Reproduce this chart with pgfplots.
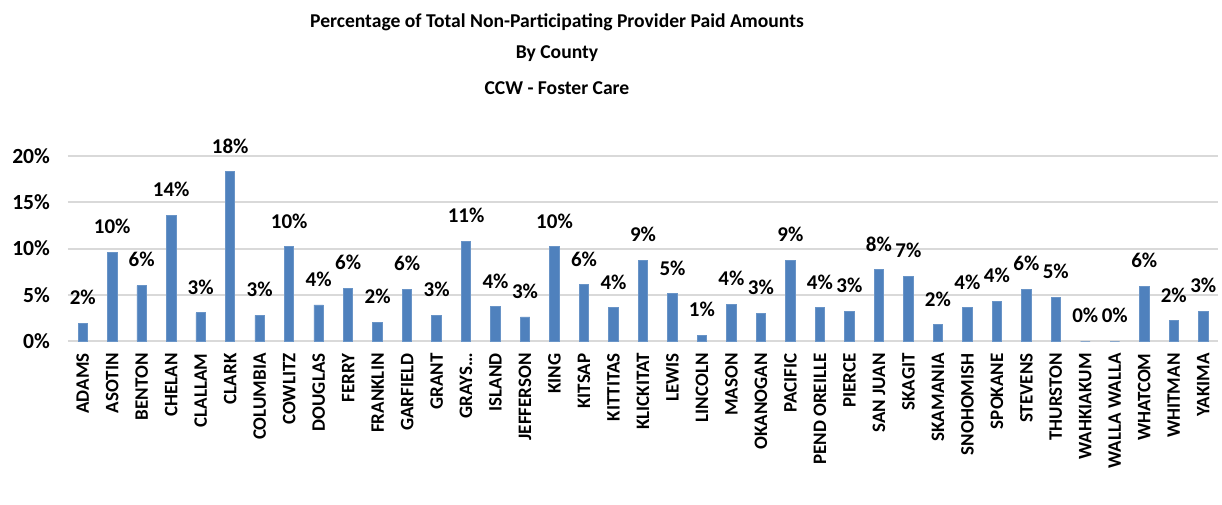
\documentclass[border=0pt]{standalone}
\usepackage{pgfplots}
\pgfplotsset{compat=1.18}
\usepackage{fontspec}
\setmainfont{Carlito}
\definecolor{barblue}{HTML}{4F81BD}
\begin{document}
\begin{tikzpicture}[x=1pt,y=1pt]
\begin{axis}[
    at={(34pt,81.5pt)}, anchor=south west,
    scale only axis,
    width=575pt, height=92.5pt,
    ybar, bar width=0.32,
    xmin=-0.5, xmax=38.5,
    ymin=0, ymax=20,
    ytick={0,5,10,15,20},
    yticklabel={\pgfmathprintnumber{\tick}\%},
    xtick=data,
    xticklabels={ADAMS,ASOTIN,BENTON,CHELAN,CLALLAM,CLARK,COLUMBIA,COWLITZ,DOUGLAS,FERRY,FRANKLIN,GARFIELD,GRANT,GRAYS…,ISLAND,JEFFERSON,KING,KITSAP,KITTITAS,KLICKITAT,LEWIS,LINCOLN,MASON,OKANOGAN,PACIFIC,PEND OREILLE,PIERCE,SAN JUAN,SKAGIT,SKAMANIA,SNOHOMISH,SPOKANE,STEVENS,THURSTON,WAHKIAKUM,WALLA WALLA,WHATCOM,WHITMAN,YAKIMA},
    xticklabel style={rotate=90, anchor=east, font=\fontsize{9.5}{10}\selectfont\bfseries, inner sep=1pt, xshift=-5pt},
    yticklabel style={font=\fontsize{10.8}{12}\selectfont\bfseries, xshift=-5.5pt},
    /pgf/number format/assume math mode=true,
    major tick length=0pt,
    axis line style={draw=none},
    ymajorgrids,
    grid style={draw=gray!30, line width=1pt},
    nodes near coords={\pgfmathprintnumber[fixed,precision=0]{\pgfplotspointmeta}\%},
    point meta=y,
    every node near coord/.append style={font=\fontsize{10.5}{12}\selectfont\bfseries, inner sep=2pt, yshift=7pt},
    clip=false,
]
\addplot[fill=barblue, draw=barblue!85!white] coordinates {
(0,1.9) (1,9.6) (2,6.0) (3,13.6) (4,3.05) (5,18.3) (6,2.76) (7,10.2) (8,3.9) (9,5.7)
(10,2.0) (11,5.6) (12,2.76) (13,10.8) (14,3.7) (15,2.6) (16,10.2) (17,6.1) (18,3.6) (19,8.7)
(20,5.1) (21,0.6) (22,4.0) (23,3.0) (24,8.7) (25,3.6) (26,3.2) (27,7.7) (28,7.0) (29,1.75)
(30,3.6) (31,4.3) (32,5.6) (33,4.7) (34,0) (35,0) (36,5.9) (37,2.2) (38,3.2)
};
\end{axis}
\node[font=\fontsize{9.8}{12}\selectfont\bfseries] at (278.5pt,241pt) {Percentage of Total Non-Participating Provider Paid Amounts};
\node[font=\fontsize{9.8}{12}\selectfont\bfseries] at (278.5pt,225pt) {By County};
\node[font=\fontsize{9.8}{12}\selectfont\bfseries] at (278.5pt,208pt) {CCW - Foster Care};
\pgfresetboundingbox
\path (0,0) rectangle (611pt,252pt);
\end{tikzpicture}
\end{document}
